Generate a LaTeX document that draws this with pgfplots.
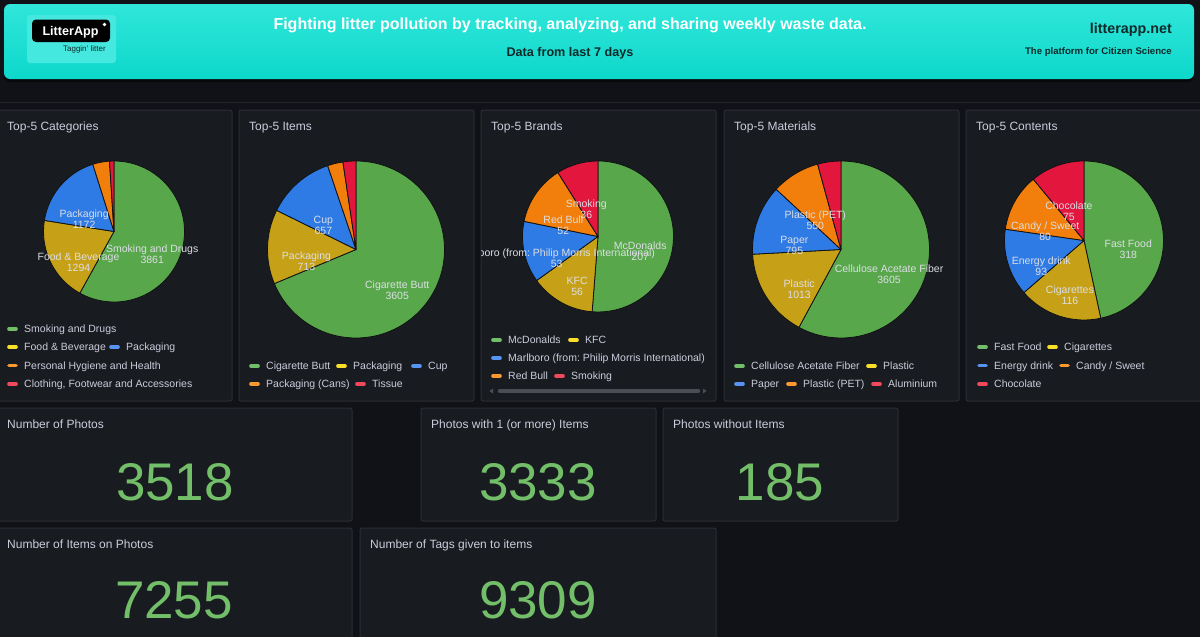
\documentclass[border=0pt]{standalone}
\usepackage{pgfplots}
\usepackage{pgfplotstable}
\pgfplotsset{compat=1.18}
\usepackage{fontspec}
\setmainfont{Liberation Sans}
\frenchspacing

\definecolor{pagebg}{HTML}{111217}
\definecolor{panelbg}{HTML}{181B1F}
\definecolor{panelline}{HTML}{2A2D33}
\definecolor{txt}{HTML}{CCCCDC}
\definecolor{lbl}{HTML}{DCDDE4}
\definecolor{bigc}{HTML}{73BF69}
\definecolor{sliceline}{HTML}{101112}
\definecolor{sgreen}{HTML}{58A84B}
\definecolor{syellow}{HTML}{C6A117}
\definecolor{sblue}{HTML}{2F7BE6}
\definecolor{sorange}{HTML}{F27F0C}
\definecolor{sred}{HTML}{E3173D}
\definecolor{lgreen}{HTML}{73BF69}
\definecolor{lyellow}{HTML}{FADE2A}
\definecolor{lblue}{HTML}{5794F2}
\definecolor{lorange}{HTML}{FF9830}
\definecolor{lred}{HTML}{F2495C}
\definecolor{headA}{HTML}{30E6DA}
\definecolor{headB}{HTML}{0DD8CB}
\definecolor{logobg}{HTML}{45E8DE}
\definecolor{headtxt}{HTML}{102A2A}
\definecolor{scroll}{HTML}{4B4E54}

% top-5 tables
\pgfplotstableread[col sep=semicolon]{
name;value;col;lab
Smoking and Drugs;3861;sgreen;1
Food \& Beverage;1294;syellow;1
Packaging;1172;sblue;1
Personal Hygiene and Health;255;sorange;0
Clothing, Footwear and Accessories;68;sred;0
}\tcat
\pgfplotstableread[col sep=semicolon]{
name;value;col;lab
Cigarette Butt;3605;sgreen;1
Packaging;713;syellow;1
Cup;657;sblue;1
Packaging (Cans);148;sorange;0
Tissue;124;sred;0
}\titem
\pgfplotstableread[col sep=semicolon]{
name;value;col;lab
McDonalds;207;sgreen;1
KFC;56;syellow;1
Marlboro (from: Philip Morris International);53;sblue;1
Red Bull;52;sorange;1
Smoking;36;sred;1
}\tbrand
\pgfplotstableread[col sep=semicolon]{
name;value;col;lab
Cellulose Acetate Fiber;3605;sgreen;1
Plastic;1013;syellow;1
Paper;795;sblue;1
Plastic (PET);550;sorange;1
Aluminium;265;sred;0
}\tmat
\pgfplotstableread[col sep=semicolon]{
name;value;col;lab
Fast Food;318;sgreen;1
Cigarettes;116;syellow;1
Energy drink;93;sblue;1
Candy / Sweet;80;sorange;1
Chocolate;75;sred;1
}\tcont

\newcommand{\fs}[1]{\fontsize{#1}{#1}\selectfont}

% pie: table, cx, cy, r  (slices clockwise from 12 o'clock)
\newcommand{\pie}[4]{%
\begin{axis}[at={(#2pt,-#3pt)}, anchor=center, hide axis, scale only axis,
  x=1pt, y=1pt, xmin=-#4, xmax=#4, ymin=-#4, ymax=#4, clip=false]
\pgfplotsextra{%
  \pgfplotstablegetrowsof{#1}%
  \pgfmathtruncatemacro\nlast{\pgfplotsretval-1}%
  \gdef\ptot{0}%
  \foreach \i in {0,...,\nlast}{%
    \pgfplotstablegetelem{\i}{value}\of{#1}%
    \pgfmathsetmacro\tmp{\ptot+\pgfplotsretval}\xdef\ptot{\tmp}}%
  \gdef\pacc{0}%
  \foreach \i in {0,...,\nlast}{%
    \pgfplotstablegetelem{\i}{value}\of{#1}\let\pv\pgfplotsretval
    \pgfplotstablegetelem{\i}{col}\of{#1}\let\pc\pgfplotsretval
    \pgfmathsetmacro\aa{90-360*(\pacc/\ptot)}%
    \pgfmathsetmacro\ab{90-360*((\pacc+\pv)/\ptot)}%
    \filldraw[fill=\pc, draw=sliceline, line width=0.8pt, line join=round]
      (axis cs:0,0) -- ++(\aa:#4pt) arc[start angle=\aa, end angle=\ab, radius=#4pt] -- cycle;
    \pgfmathsetmacro\tmp{\pacc+\pv}\xdef\pacc{\tmp}}%
  \gdef\pacc{0}%
  \foreach \i in {0,...,\nlast}{%
    \pgfplotstablegetelem{\i}{value}\of{#1}\let\pv\pgfplotsretval
    \pgfplotstablegetelem{\i}{name}\of{#1}\let\pn\pgfplotsretval
    \pgfplotstablegetelem{\i}{lab}\of{#1}\let\pl\pgfplotsretval
    \pgfmathtruncatemacro\pvi{\pv}%
    \pgfmathsetmacro\am{90-360*((\pacc+0.5*\pv)/\ptot)}%
    \pgfmathsetmacro\lx{0.56*#4*cos(\am)}%
    \pgfmathsetmacro\ly{0.56*#4*sin(\am)-13}%
    \ifnum\pl=1
      \node[align=center, text=lbl, inner sep=0, font=\fontsize{10.5}{11}\selectfont]
        at (axis cs:\lx,\ly) {\pn\\\pvi};
    \fi
    \pgfmathsetmacro\tmp{\pacc+\pv}\xdef\pacc{\tmp}}%
}
\end{axis}}

\newcommand{\panel}[5]{%
  \filldraw[fill=panelbg, draw=panelline, line width=1pt, rounded corners=2pt]
    (#1,-#2) rectangle (#3,-#4);
  \node[anchor=base west, inner sep=0, text=txt, font=\fs{12}] at ({#1+10},{-#2-20.3}) {#5};
}
\newcommand{\leg}[4]{%
  \draw[#3, line width=3.6pt, line cap=round] ({#1+2},{-#2}) -- ({#1+9},{-#2});
  \node[anchor=base west, inner sep=0, text=txt, font=\fs{10.5}] at ({#1+17},{-#2-3.8}) {#4};
}
\newcommand{\bignum}[3]{%
  \node[anchor=base, inner sep=0, text=bigc, font=\fs{53}] at (#1,-#2) {#3};
}

\begin{document}
\begin{tikzpicture}[x=1pt,y=1pt]
\useasboundingbox (0,0) rectangle (1200,-637);
\clip (0,0) rectangle (1200,-637);
\fill[pagebg] (0,0) rectangle (1200,-637);

% header
\fill[black, opacity=0.5, rounded corners=6pt] (4,-6) rectangle (1194,-82);
\shade[top color=headA, bottom color=headB, rounded corners=6pt] (4,-4) rectangle (1194,-79);
\fill[logobg, rounded corners=3pt] (27,-15) rectangle (116,-63);
\fill[black, rounded corners=4pt] (32,-19.5) rectangle (110,-42);
\fill[white] (104.5,-24.5) circle (1.8);
\node[anchor=base, inner sep=0, text=white, font=\bfseries\fs{12.6}] at (70.5,-35.5) {LitterApp};
\node[anchor=base east, inner sep=0, text=headtxt, font=\fs{8}] at (106,-51) {Taggin' litter};
\node[anchor=base, inner sep=0, text=white, font=\bfseries\fs{16}] at (570,-29) {Fighting litter pollution by tracking, analyzing, and sharing weekly waste data.};
\node[anchor=base, inner sep=0, text=headtxt, font=\bfseries\fs{12.6}] at (570,-56.5) {Data from last 7 days};
\node[anchor=base east, inner sep=0, text=headtxt, font=\bfseries\fs{14.3}] at (1172,-33) {litterapp.net};
\node[anchor=base east, inner sep=0, text=headtxt, font=\bfseries\fs{9.6}] at (1172,-54.5) {The platform for Citizen Science};
\draw[line width=1pt, color=panelline!70!pagebg] (0,-102.5) -- (1200,-102.5);

% top-5 panels
\panel{-3}{110}{232}{401}{Top-5 Categories}
\panel{239}{110}{474}{401}{Top-5 Items}
\panel{481}{110}{716}{401}{Top-5 Brands}
\panel{724}{110}{959}{401}{Top-5 Materials}
\panel{966}{110}{1201}{401}{Top-5 Contents}

\pie{\tcat}{114}{231.5}{70.5}
\pie{\titem}{356}{249.5}{88.5}
\begin{scope}
\clip (481,-110) rectangle (716,-401);
\pie{\tbrand}{598}{236.5}{75.5}
\end{scope}
\pie{\tmat}{841}{249.5}{88.5}
\pie{\tcont}{1084}{240.5}{79.5}

% legends
\leg{7}{329}{lgreen}{Smoking and Drugs}
\leg{7}{347}{lyellow}{Food \& Beverage}
\leg{109}{347}{lblue}{Packaging}
\leg{7}{365.5}{lorange}{Personal Hygiene and Health}
\leg{7}{384}{lred}{Clothing, Footwear and Accessories}

\leg{249}{366}{lgreen}{Cigarette Butt}
\leg{336}{366}{lyellow}{Packaging}
\leg{411}{366}{lblue}{Cup}
\leg{249}{384}{lorange}{Packaging (Cans)}
\leg{355}{384}{lred}{Tissue}

\leg{491}{340}{lgreen}{McDonalds}
\leg{568}{340}{lyellow}{KFC}
\leg{491}{358}{lblue}{Marlboro (from: Philip Morris International)}
\leg{491}{376}{lorange}{Red Bull}
\leg{554}{376}{lred}{Smoking}
\draw[scroll, line width=4.5pt, line cap=round] (500,-391) -- (698,-391);
\fill[scroll] (489.5,-391) -- (493,-388.5) -- (493,-393.5) -- cycle;
\fill[scroll] (706.5,-391) -- (703,-388.5) -- (703,-393.5) -- cycle;

\leg{734}{366}{lgreen}{Cellulose Acetate Fiber}
\leg{866}{366}{lyellow}{Plastic}
\leg{734}{384}{lblue}{Paper}
\leg{786}{384}{lorange}{Plastic (PET)}
\leg{871}{384}{lred}{Aluminium}

\leg{977}{347}{lgreen}{Fast Food}
\leg{1047}{347}{lyellow}{Cigarettes}
\leg{977}{365.5}{lblue}{Energy drink}
\leg{1059}{365.5}{lorange}{Candy / Sweet}
\leg{977}{384}{lred}{Chocolate}

% stat cards
\panel{-3}{408}{352}{521}{Number of Photos}
\panel{421}{408}{656}{521}{Photos with 1 (or more) Items}
\panel{663}{408}{898}{521}{Photos without Items}
\panel{-3}{528}{352}{645}{Number of Items on Photos}
\panel{360}{528}{716}{645}{Number of Tags given to items}
\bignum{175}{500}{3518}
\bignum{538}{500}{3333}
\bignum{780}{500}{185}
\bignum{174}{618}{7255}
\bignum{538}{618}{9309}
\end{tikzpicture}
\end{document}
